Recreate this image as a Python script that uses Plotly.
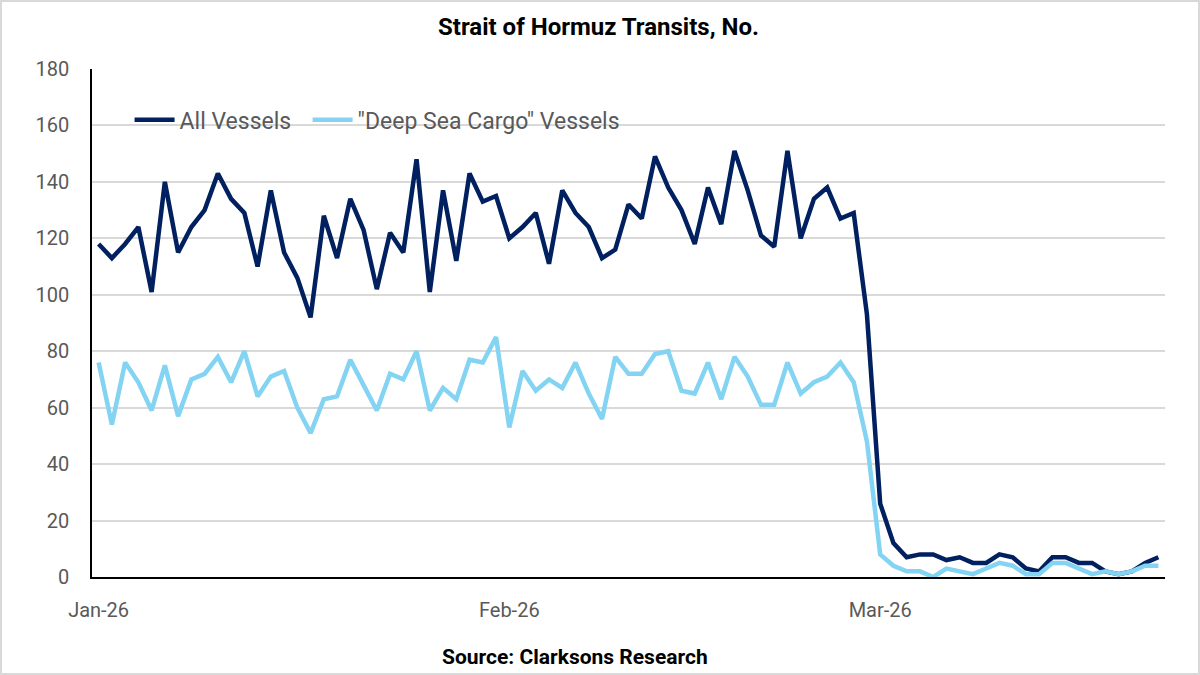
import plotly.graph_objects as go
import pandas as pd

dates = pd.date_range("2026-01-01", "2026-03-22", freq="D")

all_vessels = [
    # Jan
    118, 113, 118, 124, 101, 140, 115, 124, 130, 143, 134, 129, 110, 137, 115, 106,
    92, 128, 113, 134, 123, 102, 122, 115, 148, 101, 137, 112, 143, 133, 135,
    # Feb
    120, 124, 129, 111, 137, 129, 124, 113, 116, 132, 127, 149, 138, 130, 118, 138,
    125, 151, 137, 121, 117, 151, 120, 134, 138, 127, 129, 93,
    # Mar
    26, 12, 7, 8, 8, 6, 7, 5, 5, 8, 7, 3, 2, 7, 7, 5, 5, 2, 1, 2, 5, 7,
]

deep_sea_cargo = [
    # Jan
    76, 54, 76, 69, 59, 75, 57, 70, 72, 78, 69, 80, 64, 71, 73, 60,
    51, 63, 64, 77, 68, 59, 72, 70, 80, 59, 67, 63, 77, 76, 85,
    # Feb
    53, 73, 66, 70, 67, 76, 65, 56, 78, 72, 72, 79, 80, 66, 65, 76,
    63, 78, 71, 61, 61, 76, 65, 69, 71, 76, 69, 48,
    # Mar
    8, 4, 2, 2, 0, 3, 2, 1, 3, 5, 4, 1, 1, 5, 5, 3, 1, 2, 1, 2, 4, 4,
]

series_names = ["All Vessels", '"Deep Sea Cargo" Vessels']
y_ticks = [0, 20, 40, 60, 80, 100, 120, 140, 160, 180]
x_tick_dates = ["2026-01-01", "2026-02-01", "2026-03-01"]
x_tick_labels = ["Jan-26", "Feb-26", "Mar-26"]

title_text = "Strait of Hormuz Transits, No."
source_text = "Source: Clarksons Research"

FONT = "Roboto"
DARK = "#002060"
LIGHT = "#83d3f2"
GREY_TXT = "#595959"

fig = go.Figure()
fig.add_trace(go.Scatter(x=dates, y=all_vessels, mode="lines",
                         name=series_names[0] + "\u00a0\u00a0",
                         line=dict(color=DARK, width=4.5)))
fig.add_trace(go.Scatter(x=dates, y=deep_sea_cargo, mode="lines",
                         name=series_names[1],
                         line=dict(color=LIGHT, width=4.5)))

W, H = 1200, 675
ml, mr, mt, mb = 92, 35, 69, 98
pw, ph = W - ml - mr, H - mt - mb

fig.update_layout(
    width=W, height=H,
    margin=dict(l=ml, r=mr, t=mt, b=mb, pad=0),
    paper_bgcolor="white", plot_bgcolor="white",
    font=dict(family=FONT, color=GREY_TXT, size=20),
    showlegend=True,
    legend=dict(orientation="h", x=0.035, y=0.9, xanchor="left", yanchor="middle",
                font=dict(size=23, color=GREY_TXT), bgcolor="rgba(0,0,0,0)",
                itemwidth=40, tracegroupgap=0),
    xaxis=dict(
        type="date",
        range=["2025-12-31 12:00", "2026-03-22 12:00"],
        tickvals=x_tick_dates, ticktext=x_tick_labels,
        showgrid=False, showline=True, linecolor="black", linewidth=1.5,
        ticks="", ticklabelstandoff=14,
        tickfont=dict(size=20, color=GREY_TXT),
        zeroline=False, fixedrange=True,
    ),
    yaxis=dict(
        range=[0, 180], tickvals=y_ticks,
        showgrid=True, gridcolor="#d9d9d9", gridwidth=1.5,
        showline=True, linecolor="black", linewidth=1.5,
        ticks="", ticklabelstandoff=17,
        tickfont=dict(size=20, color=GREY_TXT),
        zeroline=False, fixedrange=True,
    ),
    annotations=[
        dict(text="<b>" + title_text + "</b>", xref="paper", yref="paper",
             x=(598 - ml) / pw, y=1 + (mt - 27) / ph, xanchor="center", yanchor="middle",
             showarrow=False, font=dict(family=FONT, size=24, color="black")),
        dict(text="<b>" + source_text + "</b>", xref="paper", yref="paper",
             x=(575 - ml) / pw, y=-(657 - (H - mb)) / ph, xanchor="center", yanchor="middle",
             showarrow=False, font=dict(family=FONT, size=21, color="black")),
    ],
    shapes=[
        dict(type="rect", xref="paper", yref="paper",
             x0=(-ml + 1) / pw, x1=(W - ml - 1) / pw,
             y0=(-mb + 1) / ph, y1=(H - mb - 1) / ph,
             line=dict(color="#d9d9d9", width=2), layer="below"),
    ],
)

fig.write_html("out.html")
